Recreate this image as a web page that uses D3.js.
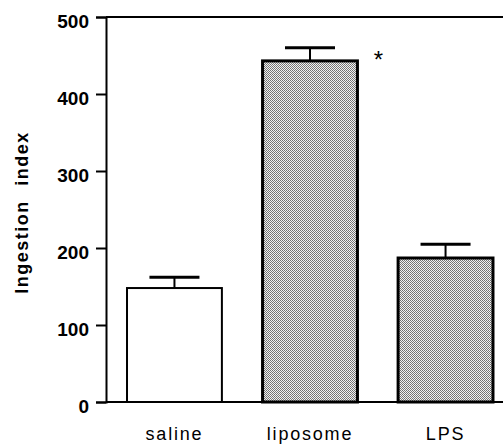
<!DOCTYPE html>
<html>
<head>
<meta charset="utf-8">
<script src="https://cdn.jsdelivr.net/npm/d3@7"></script>
<style>
	body { margin: 0; background: #fff; }
	svg { display: block; }
	text { font-family: "Liberation Sans", Arial, Helvetica, sans-serif; fill: #000; }
</style>
</head>
<body>
<svg id="svg1"></svg>
<script>
// Data
categories = ["saline", "liposome", "LPS"];
means = [148, 443, 187];
errors = [14, 17, 18];
fills = ["white", "dots", "dots"];
significant = [false, true, false];
y_ticks = [0, 100, 200, 300, 400, 500];
y_label = "Ingestion index";

function show_chart() {
	console.log("show_chart:Begin")

	settings = {
		width : 503,
		height : 445,
		left : 106,
		top : 17,
		bottom : 402,
		right : 514
	}

	svg = d3.select("#svg1")
		.attr("width", settings.width)
		.attr("height", settings.height)

	// Dotted grey fill
	var pat = svg.append("defs").append("pattern")
		.attr("id", "dots")
		.attr("patternUnits", "userSpaceOnUse")
		.attr("width", 2)
		.attr("height", 2)
	pat.append("rect").attr("width", 2).attr("height", 2).attr("fill", "#f2f2f2")
	pat.append("rect").attr("width", 1).attr("height", 1).attr("fill", "#707070")
	pat.append("rect").attr("x", 1).attr("y", 1).attr("width", 1).attr("height", 1).attr("fill", "#7c7c7c")

	var x = d3.scaleBand().domain(categories)
		.range([settings.left, settings.right])
		.paddingInner(0.3)
		.paddingOuter(0.155);

	var y = d3.scaleLinear().domain([0, 500]).range([settings.bottom, settings.top]);

	data = categories.map((c, i) => ({ name: c, mean: means[i], err: errors[i], fill: fills[i], sig: significant[i] }));

	// Error bars (drawn first so bar outline covers the stem)
	var eb = svg.append("g").selectAll("g").data(data).enter().append("g")
	eb.append("line")
		.attr("x1", d => x(d.name) + x.bandwidth() / 2)
		.attr("x2", d => x(d.name) + x.bandwidth() / 2)
		.attr("y1", d => y(d.mean))
		.attr("y2", d => y(d.mean + d.err))
		.attr("stroke", "#000").attr("stroke-width", 2)
	eb.append("line")
		.attr("x1", d => x(d.name) + x.bandwidth() / 2 - 25)
		.attr("x2", d => x(d.name) + x.bandwidth() / 2 + 25)
		.attr("y1", d => y(d.mean + d.err))
		.attr("y2", d => y(d.mean + d.err))
		.attr("stroke", "#000").attr("stroke-width", 3)

	// Bars
	svg.append("g").selectAll("rect").data(data).enter().append("rect")
		.attr("x", d => x(d.name))
		.attr("y", d => y(d.mean))
		.attr("width", x.bandwidth())
		.attr("height", d => settings.bottom - y(d.mean))
		.attr("fill", d => d.fill == "dots" ? "url(#dots)" : "#fff")
		.attr("stroke", "#000")
		.attr("stroke-width", d => d.fill == "dots" ? 3 : 2)

	// Significance mark
	svg.append("g").selectAll("text").data(data.filter(d => d.sig)).enter().append("text")
		.attr("x", d => x(d.name) + x.bandwidth() + 21)
		.attr("y", d => y(d.mean + d.err) + 20)
		.attr("text-anchor", "middle")
		.style("font-size", "24px")
		.text("*")

	// Y axis
	var yAxis = d3.axisLeft(y).tickValues(y_ticks).tickSize(10).tickPadding(7).tickFormat(d3.format("d"));
	var ga = svg.append("g")
		.attr("transform", "translate(" + settings.left + ",0)")
		.call(yAxis);
	ga.select(".domain").attr("stroke", "#000").attr("stroke-width", 2);
	ga.selectAll(".tick line").attr("stroke", "#000").attr("stroke-width", 2);
	ga.selectAll(".tick text")
		.attr("dy", "0.55em")
		.style("font-size", "19px")
		.style("font-weight", "bold")
		.style("font-family", "'Liberation Sans', Arial, sans-serif");

	// Top and bottom frame lines
	svg.append("line")
		.attr("x1", settings.left).attr("x2", settings.width)
		.attr("y1", y(500)).attr("y2", y(500))
		.attr("stroke", "#000").attr("stroke-width", 2)
	svg.append("line")
		.attr("x1", settings.left).attr("x2", settings.width)
		.attr("y1", y(0)).attr("y2", y(0))
		.attr("stroke", "#000").attr("stroke-width", 2)

	// Category labels
	svg.append("g").selectAll("text").data(categories).enter().append("text")
		.attr("x", d => x(d) + x.bandwidth() / 2)
		.attr("y", 440)
		.attr("text-anchor", "middle")
		.style("font-size", "18px")
		.style("letter-spacing", "1.8px")
		.text(d => d)

	// Y axis title
	svg.append("text")
		.attr("transform", "translate(28," + ((settings.top + settings.bottom) / 2 + 3) + ") rotate(-90)")
		.attr("text-anchor", "middle")
		.style("font-size", "18px")
		.style("font-weight", "bold")
		.style("letter-spacing", "1.5px")
		.style("word-spacing", "8px")
		.text(y_label)

	console.log("show_chart:End")
}

show_chart();
</script>
</body>
</html>
